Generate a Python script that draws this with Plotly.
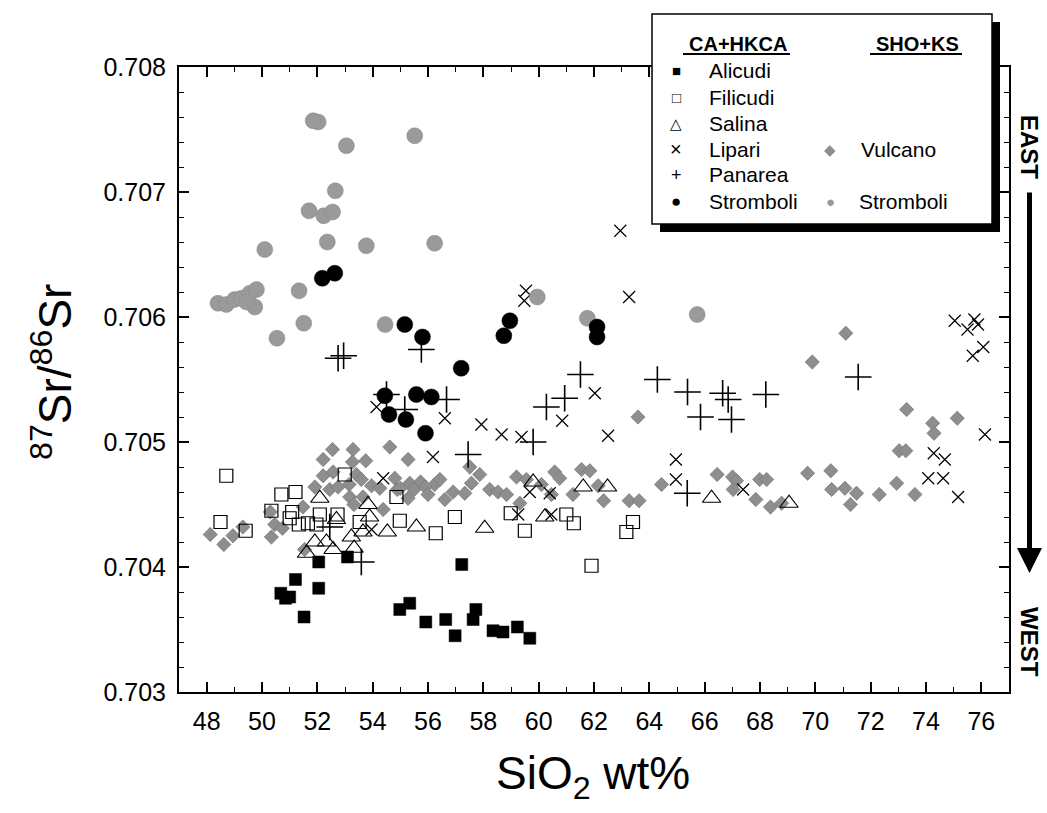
import plotly.graph_objects as go

# ---------------- data (SiO2 wt%, 87Sr/86Sr) ----------------
alicudi_x = [50.68, 50.85, 51.00, 51.21, 51.52, 52.05, 52.05, 53.09, 57.22, 54.98, 55.34, 55.92,
             56.64, 56.98, 57.63, 57.73, 58.35, 58.71, 59.23, 59.68]
alicudi_y = [0.70379, 0.70375, 0.70376, 0.70390, 0.70360, 0.70383, 0.70404, 0.70408, 0.70402, 0.70366,
             0.70371, 0.70356, 0.70358, 0.70345, 0.70358, 0.70366, 0.70349, 0.70348, 0.70352, 0.70343]

filicudi_x = [48.71, 48.50, 49.41, 50.34, 50.70, 51.21, 51.09, 51.00, 51.33, 51.66, 51.97, 52.09,
              52.73, 52.99, 53.53, 54.98, 54.86, 56.28, 56.97, 58.99, 59.50, 61.00, 61.27, 61.91,
              63.41, 63.17]
filicudi_y = [0.70473, 0.70436, 0.70429, 0.70445, 0.70458, 0.70460, 0.70444, 0.70439, 0.70434, 0.70435,
              0.70434, 0.70442, 0.70442, 0.70474, 0.70436, 0.70437, 0.70456, 0.70427, 0.70440, 0.70443,
              0.70429, 0.70442, 0.70435, 0.70401, 0.70436, 0.70428]

salina_x = [52.09, 51.91, 51.61, 52.33, 52.57, 52.69, 53.23, 53.33, 53.65, 53.83, 53.89, 54.53,
            55.58, 58.05, 59.80, 60.22, 61.61, 62.49, 66.25, 69.05]
salina_y = [0.70455, 0.70420, 0.70411, 0.70420, 0.70414, 0.70438, 0.70424, 0.70415, 0.70428, 0.70450,
            0.70440, 0.70428, 0.70432, 0.70431, 0.70468, 0.70440, 0.70464, 0.70464, 0.70455, 0.70451]

lipari_x = [62.95, 59.54, 59.48, 63.27, 62.03, 60.85, 62.51, 75.04, 75.50, 75.75, 75.88, 76.07,
            75.69, 76.13, 54.14, 56.61, 57.93, 58.66, 59.38, 56.18, 54.38, 59.68, 60.40, 59.26,
            60.46, 53.96, 64.96, 64.96, 67.39, 74.28, 74.68, 74.08, 74.62, 75.16]
lipari_y = [0.70669, 0.70621, 0.70613, 0.70616, 0.70539, 0.70517, 0.70505, 0.70597, 0.70590, 0.70598,
            0.70594, 0.70576, 0.70569, 0.70506, 0.70528, 0.70519, 0.70514, 0.70506, 0.70504, 0.70488,
            0.70471, 0.70460, 0.70459, 0.70442, 0.70442, 0.70430, 0.70486, 0.70470, 0.70462, 0.70491,
            0.70486, 0.70471, 0.70471, 0.70456]

panarea_x = [52.75, 52.95, 55.76, 54.50, 55.16, 56.67, 57.45, 59.80, 60.28, 60.94, 52.45, 53.59,
             61.51, 64.29, 65.38, 65.85, 66.65, 66.85, 66.97, 68.21, 71.55, 65.37]
panarea_y = [0.70567, 0.70569, 0.70574, 0.70538, 0.70526, 0.70534, 0.70490, 0.70500, 0.70528, 0.70535,
             0.70432, 0.70404, 0.70554, 0.70550, 0.70540, 0.70520, 0.70539, 0.70534, 0.70518, 0.70538,
             0.70552, 0.70459]

stromboli_ca_x = [52.18, 52.63, 55.16, 55.80, 54.44, 54.59, 55.20, 55.58, 56.12, 55.91, 62.11, 62.11,
                  58.96, 58.74, 57.20]
stromboli_ca_y = [0.70631, 0.70635, 0.70594, 0.70584, 0.70537, 0.70522, 0.70518, 0.70538, 0.70536,
                  0.70507, 0.70592, 0.70584, 0.70597, 0.70585, 0.70559]

vulcano_x = [48.13, 48.62, 48.95, 49.31, 50.34, 50.46, 50.74, 50.30, 51.48, 51.54, 51.91, 52.21,
             52.21, 52.55, 52.57, 52.45, 52.75, 53.15, 53.29, 53.27, 53.41, 53.75, 53.59, 53.17,
             53.32, 53.65, 53.96, 54.26, 54.38, 54.62, 54.80, 54.89, 55.28, 55.34, 55.28, 55.73,
             56.24, 56.43, 56.61, 56.91, 57.33, 57.51, 57.87, 57.57, 58.23, 58.53, 58.84, 59.32,
             59.20, 59.56, 60.10, 60.46, 60.58, 60.76, 61.24, 61.55, 61.85, 62.15, 62.35, 63.27,
             63.63, 63.59, 64.44, 66.45, 67.01, 67.15, 67.03, 67.85, 67.99, 68.24, 68.38, 68.78,
             69.72, 70.56, 70.59, 71.07, 71.49, 71.27, 72.31, 72.94, 73.60, 73.03, 73.27, 73.30,
             74.24, 74.29, 75.13, 69.89, 71.10, 55.00, 55.50, 55.90, 56.00]
vulcano_y = [0.70426, 0.70418, 0.70425, 0.70432, 0.70424, 0.70434, 0.70431, 0.70444, 0.70448, 0.70414,
             0.70464, 0.70473, 0.70486, 0.70494, 0.70476, 0.70462, 0.70464, 0.70466, 0.70494, 0.70484,
             0.70474, 0.70485, 0.70470, 0.70456, 0.70450, 0.70456, 0.70465, 0.70463, 0.70446, 0.70496,
             0.70471, 0.70462, 0.70486, 0.70467, 0.70455, 0.70468, 0.70466, 0.70470, 0.70454, 0.70460,
             0.70459, 0.70480, 0.70474, 0.70467, 0.70462, 0.70460, 0.70458, 0.70451, 0.70472, 0.70470,
             0.70466, 0.70458, 0.70476, 0.70471, 0.70458, 0.70478, 0.70477, 0.70465, 0.70453, 0.70453,
             0.70453, 0.70520, 0.70466, 0.70474, 0.70472, 0.70469, 0.70462, 0.70454, 0.70470, 0.70470,
             0.70448, 0.70451, 0.70475, 0.70477, 0.70462, 0.70463, 0.70459, 0.70450, 0.70458, 0.70467,
             0.70458, 0.70493, 0.70493, 0.70526, 0.70515, 0.70507, 0.70519, 0.70564, 0.70587, 0.70463,
             0.70462, 0.70464, 0.70458]

stromboli_sho_x = [52.03, 51.85, 53.05, 55.52, 52.65, 51.70, 52.23, 52.55, 50.10, 52.36, 53.77, 56.24,
                   51.34, 51.51, 50.54, 54.45, 48.41, 48.71, 49.01, 49.26, 49.56, 49.80, 49.74, 49.44,
                   59.95, 61.76, 65.73]
stromboli_sho_y = [0.70756, 0.70757, 0.70737, 0.70745, 0.70701, 0.70685, 0.70681, 0.70684, 0.70654,
                   0.70660, 0.70657, 0.70659, 0.70621, 0.70595, 0.70583, 0.70594, 0.70611, 0.70610,
                   0.70614, 0.70615, 0.70619, 0.70622, 0.70608, 0.70612, 0.70616, 0.70599, 0.70602]

x_ticks = [48, 50, 52, 54, 56, 58, 60, 62, 64, 66, 68, 70, 72, 74, 76]
y_ticks = [0.703, 0.704, 0.705, 0.706, 0.707, 0.708]

# ---------------- figure ----------------
W, H = 1047, 813
L, R, T, B = 179, 1009, 67, 692
FONT = "Arial, Liberation Sans, sans-serif"


def xp(px):
    return (px - L) / (R - L)


def yp(py):
    return (B - py) / (B - T)


fig = go.Figure()


def add(x, y, symbol, size, color, lcolor=None, lwidth=0):
    fig.add_trace(go.Scatter(
        x=x, y=y, mode="markers", showlegend=False,
        marker=dict(symbol=symbol, size=size, color=color,
                    line=dict(color=lcolor if lcolor else color, width=lwidth))))


add(vulcano_x, vulcano_y, "diamond", 11, "#8e8e8e", "#707070", 0.6)
add(filicudi_x, filicudi_y, "square-open", 13, "black", None, 1.2)
add(salina_x, salina_y, "triangle-up-open", 16, "black", None, 1.2)
add(alicudi_x, alicudi_y, "square", 12, "black", "black", 0.5)
add(lipari_x, lipari_y, "x-thin-open", 12, "black", None, 1.2)
add(panarea_x, panarea_y, "cross-thin-open", 19, "black", None, 1.6)
add(stromboli_sho_x, stromboli_sho_y, "circle", 16, "#9a9a9a", "#8a8a8a", 0.5)
add(stromboli_ca_x, stromboli_ca_y, "circle", 16, "black", "black", 0.5)

axis_common = dict(
    showline=True, linecolor="black", linewidth=2, mirror="allticks",
    ticks="inside", ticklen=10, tickwidth=1.5, tickcolor="black",
    showgrid=False, zeroline=False,
    tickfont=dict(family=FONT, size=25, color="black"),
)

fig.update_xaxes(range=[47, 77], tickvals=x_ticks, ticklabelstandoff=6,
                 minor=dict(dtick=1, tick0=47, ticks="inside", ticklen=5, tickwidth=1.2,
                            tickcolor="black"),
                 **axis_common)
fig.update_yaxes(range=[0.703, 0.708], tickvals=y_ticks, tickformat=".3f", ticklabelstandoff=6,
                 minor=dict(dtick=0.0002, tick0=0.703, ticks="inside", ticklen=5, tickwidth=1.2,
                            tickcolor="black"),
                 **axis_common)

shapes = [
    # legend shadow and box
    dict(type="rect", xref="paper", yref="paper", x0=xp(660), x1=xp(1000), y0=yp(232), y1=yp(22),
         fillcolor="black", line=dict(width=0), layer="above"),
    dict(type="rect", xref="paper", yref="paper", x0=xp(652), x1=xp(992), y0=yp(224), y1=yp(14),
         fillcolor="white", line=dict(color="black", width=1.5), layer="above"),
    dict(type="line", xref="paper", yref="paper", x0=xp(683), x1=xp(790), y0=yp(54), y1=yp(54),
         line=dict(color="black", width=2), layer="above"),
    dict(type="line", xref="paper", yref="paper", x0=xp(870), x1=xp(962), y0=yp(54), y1=yp(54),
         line=dict(color="black", width=2), layer="above"),
]

ann = []


def text(px, py, s, size, xanchor="left", color="black", angle=0, bold=False):
    ann.append(dict(x=xp(px), y=yp(py), xref="paper", yref="paper", text=(f"<b>{s}</b>" if bold else s),
                    showarrow=False, xanchor=xanchor, yanchor="middle", textangle=angle,
                    font=dict(family=FONT, size=size, color=color)))


text(738, 44, "CA+HKCA", 20, "center", bold=True)
text(917, 44, "SHO+KS", 20, "center", bold=True)

rows = [71, 97, 123, 149, 175, 201]
labels = ["Alicudi", "Filicudi", "Salina", "Lipari", "Panarea", "Stromboli"]
glyphs = [("■", 15, "black"), ("□", 15, "black"), ("△", 15, "black"), ("×", 20, "black"),
          ("+", 18, "black"), ("●", 17, "black")]
for r, lab, (g, gs, gc) in zip(rows, labels, glyphs):
    text(676, r, g, gs, "center", gc)
    text(707, r, lab, 21)

text(830, 149, "◆", 15, "center", "#8e8e8e")
text(859, 149, "Vulcano", 21)
text(830, 201, "●", 15, "center", "#9a9a9a")
text(857, 201, "Stromboli", 21)

# axis titles
text(593, 776, "SiO<sub>2</sub> wt%", 46, "center")
ann.append(dict(x=xp(52), y=yp(372), xref="paper", yref="paper",
                text="<sup>87</sup>Sr/<sup>86</sup>Sr", showarrow=False, textangle=-90,
                xanchor="center", yanchor="middle", font=dict(family=FONT, size=46, color="black")))

# EAST / WEST arrow
text(1030, 147, "EAST", 24, "center", angle=90, bold=True)
text(1030, 642, "WEST", 24, "center", angle=90, bold=True)
ann.append(dict(x=xp(1029.5), y=yp(573), xref="paper", yref="paper", text="", showarrow=True,
                ax=0, ay=-(573 - 191), arrowhead=2, arrowsize=1, arrowwidth=5, arrowcolor="black"))

fig.update_layout(
    width=W, height=H,
    margin=dict(l=L, r=W - R, t=T, b=H - B),
    plot_bgcolor="white", paper_bgcolor="white",
    shapes=shapes, annotations=ann,
    font=dict(family=FONT, color="black"),
)

fig.write_html("out.html")
